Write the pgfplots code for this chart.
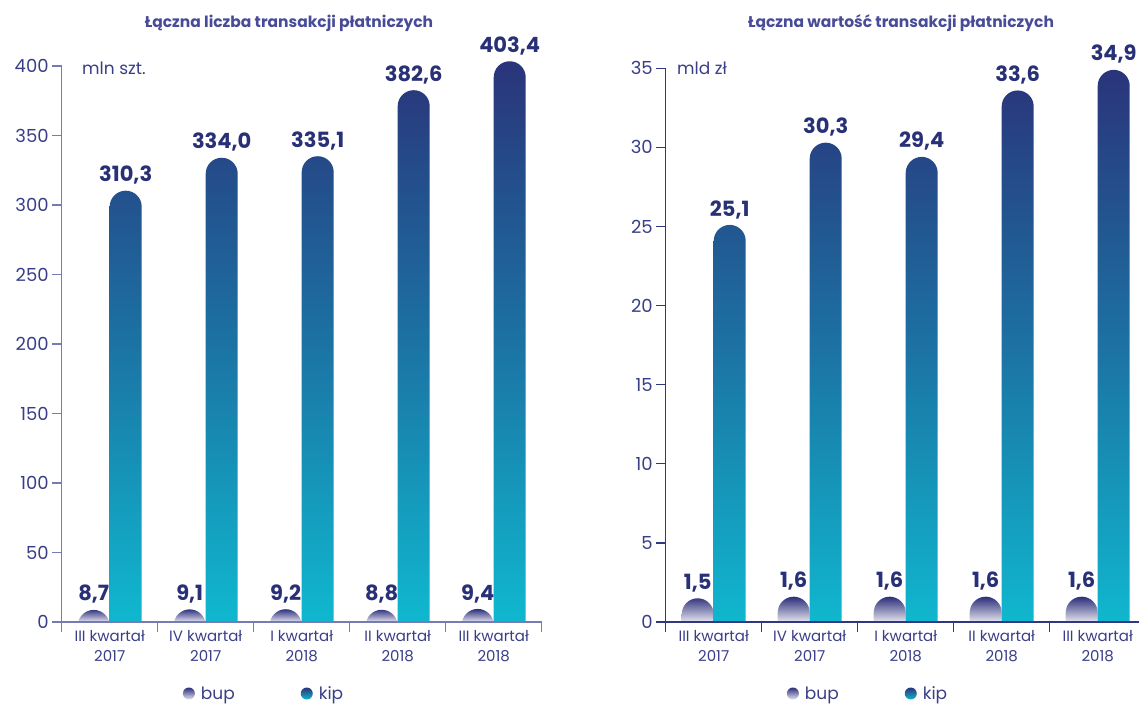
\documentclass[border=0pt]{standalone}
\usepackage{pgfplots}
\pgfplotsset{compat=1.18}
\usepackage{pgfplotstable}
\usepackage{fontspec}
\setmainfont{Poppins}
\definecolor{axL}{RGB}{118,123,178}
\definecolor{axR}{RGB}{50,55,130}
\definecolor{labc}{RGB}{58,62,135}
\definecolor{titc}{RGB}{72,76,152}
\definecolor{valc}{RGB}{40,48,118}
\definecolor{kiptop}{RGB}{42,52,122}
\definecolor{kipmid}{RGB}{28,112,162}
\definecolor{kipbot}{RGB}{16,182,206}
\definecolor{buptop}{RGB}{45,46,122}
\definecolor{bupbot}{RGB}{228,228,240}
\pgfdeclareverticalshading{kipsh}{100bp}{color(0bp)=(kipbot); color(28bp)=(kipbot); color(52bp)=(kipmid); color(75bp)=(kiptop); color(100bp)=(kiptop)}
\pgfdeclareverticalshading{bupshL}{100bp}{color(0bp)=(bupbot); color(59bp)=(bupbot); color(75bp)=(buptop); color(100bp)=(buptop)}
\pgfdeclareverticalshading{bupshR}{100bp}{color(0bp)=(bupbot); color(53bp)=(bupbot); color(75bp)=(buptop); color(100bp)=(buptop)}

\pgfplotstableread{
x bup kip
0 8.7 310.3
1 9.1 334.0
2 9.2 335.1
3 8.8 382.6
4 9.4 403.4
}\tabL
\pgfplotstableread{
x bup kip
0 1.5 25.1
1 1.6 30.3
2 1.6 29.4
3 1.6 33.6
4 1.6 34.9
}\tabR

\pgfplotsset{
 common/.style={scale only axis, width=480pt, xmin=-0.5, xmax=4.5},
 bars/.style={common, hide axis, ybar, bar width=32pt, ymin=0,
  nodes near coords,
  every node near coord/.append style={font=\fontsize{21}{21}\selectfont\bfseries, text=valc, inner sep=0pt, yshift=6pt},
  /pgf/number format/fixed, /pgf/number format/fixed zerofill, /pgf/number format/precision=1,
  /pgf/number format/use comma, /pgf/number format/assume math mode=true},
 bupbar/.style={bar shift=-16pt, shade, draw=none, rounded corners=16pt, point meta=explicit},
 kipbar/.style={bar shift=16pt, shade, shading=kipsh, draw=none, rounded corners=16pt, point meta=explicit},
 deco/.style={common, ymin=0,
  axis x line=bottom, axis y line=left,
  axis line style={-, line width=1.2pt},
  tick align=outside, major tick length=9.5pt,
  every tick/.append style={line width=1.2pt},
  xtick={-0.5,0.5,1.5,2.5,3.5,4.5}, xticklabels={,,,,,},
  extra x ticks={0,1,2,3,4},
  extra x tick labels={III kwartał\\2017, IV kwartał\\2017, I kwartał\\2018, II kwartał\\2018, III kwartał\\2018},
  extra x tick style={major tick length=0pt},
  xticklabel style={align=center, font=\fontsize{15}{20}\selectfont, text=labc, yshift=-5pt},
  yticklabel style={font=\fontsize{18}{18}\selectfont, text=labc},
  legend columns=2,
  legend style={draw=none, fill=none, at={(0,0)}, anchor=west, xshift=121pt, yshift=-71.5pt, inner sep=0pt,
   font=\fontsize{17}{17}\selectfont, text=labc,
   /tikz/every even column/.append style={column sep=64pt}}},
 legbup/.style={legend image code/.code={\path[draw=none,fill=none] (0pt,-6pt) rectangle (16pt,6pt);\shade[draw=none,top color=buptop,bottom color=bupbot] (6pt,0pt) circle (6pt);}},
 legkip/.style={legend image code/.code={\path[draw=none,fill=none] (0pt,-6pt) rectangle (16pt,6pt);\shade[draw=none,top color=kiptop,bottom color=kipbot] (6pt,0pt) circle (6pt);}},
}

\begin{document}
\begin{tikzpicture}
\path[use as bounding box] (0,0) rectangle (1139pt,704pt);
% ---------- left panel ----------
\begin{scope}
\clip (0pt,82pt) rectangle (1139pt,704pt);
\begin{axis}[bars, at={(61.7pt,54.2pt)}, anchor=south west, height=639.4pt,
  ymax=460, y filter/.expression={y+20}]
\addplot[bupbar, shading=bupshL] table[x=x,y=bup,meta=bup]{\tabL};
\addplot[kipbar] table[x=x,y=kip,meta=kip]{\tabL};
\end{axis}
\end{scope}
\begin{axis}[deco, at={(61.7pt,82pt)}, anchor=south west, height=556pt,
  ymax=400, ytick={0,50,...,400}, yticklabels={0,50,100,150,200,250,300,350,400},
  axis line style={axL}, every tick/.append style={axL}]
\addlegendimage{legbup}\addlegendentry{bup}
\addlegendimage{legkip}\addlegendentry{kip}
\end{axis}
% ---------- right panel ----------
\begin{scope}
\clip (0pt,82pt) rectangle (1139pt,704pt);
\begin{axis}[bars, at={(665.7pt,50.36pt)}, anchor=south west, height=632.8pt,
  ymax=40, y filter/.expression={y+2}]
\addplot[bupbar, shading=bupshR] table[x=x,y=bup,meta=bup]{\tabR};
\addplot[kipbar] table[x=x,y=kip,meta=kip]{\tabR};
\end{axis}
\end{scope}
\begin{axis}[deco, at={(665.7pt,82pt)}, anchor=south west, height=553.7pt,
  ymax=35, ytick={0,5,...,35}, yticklabels={0,5,10,15,20,25,30,35},
  axis line style={axR}, every tick/.append style={axR}]
\addlegendimage{legbup}\addlegendentry{bup}
\addlegendimage{legkip}\addlegendentry{kip}
\end{axis}
\node[font=\fontsize{15.5}{16}\selectfont\bfseries, text=titc] at (289pt,681pt) {Łączna liczba transakcji płatniczych};
\node[font=\fontsize{15.5}{16}\selectfont\bfseries, text=titc] at (901pt,681pt) {Łączna wartość transakcji płatniczych};
\node[anchor=west, font=\fontsize{17}{17}\selectfont, text=labc, inner sep=0pt] at (82pt,636pt) {mln szt.};
\node[anchor=west, font=\fontsize{17}{17}\selectfont, text=labc, inner sep=0pt] at (677pt,636pt) {mld zł};
\end{tikzpicture}
\end{document}
